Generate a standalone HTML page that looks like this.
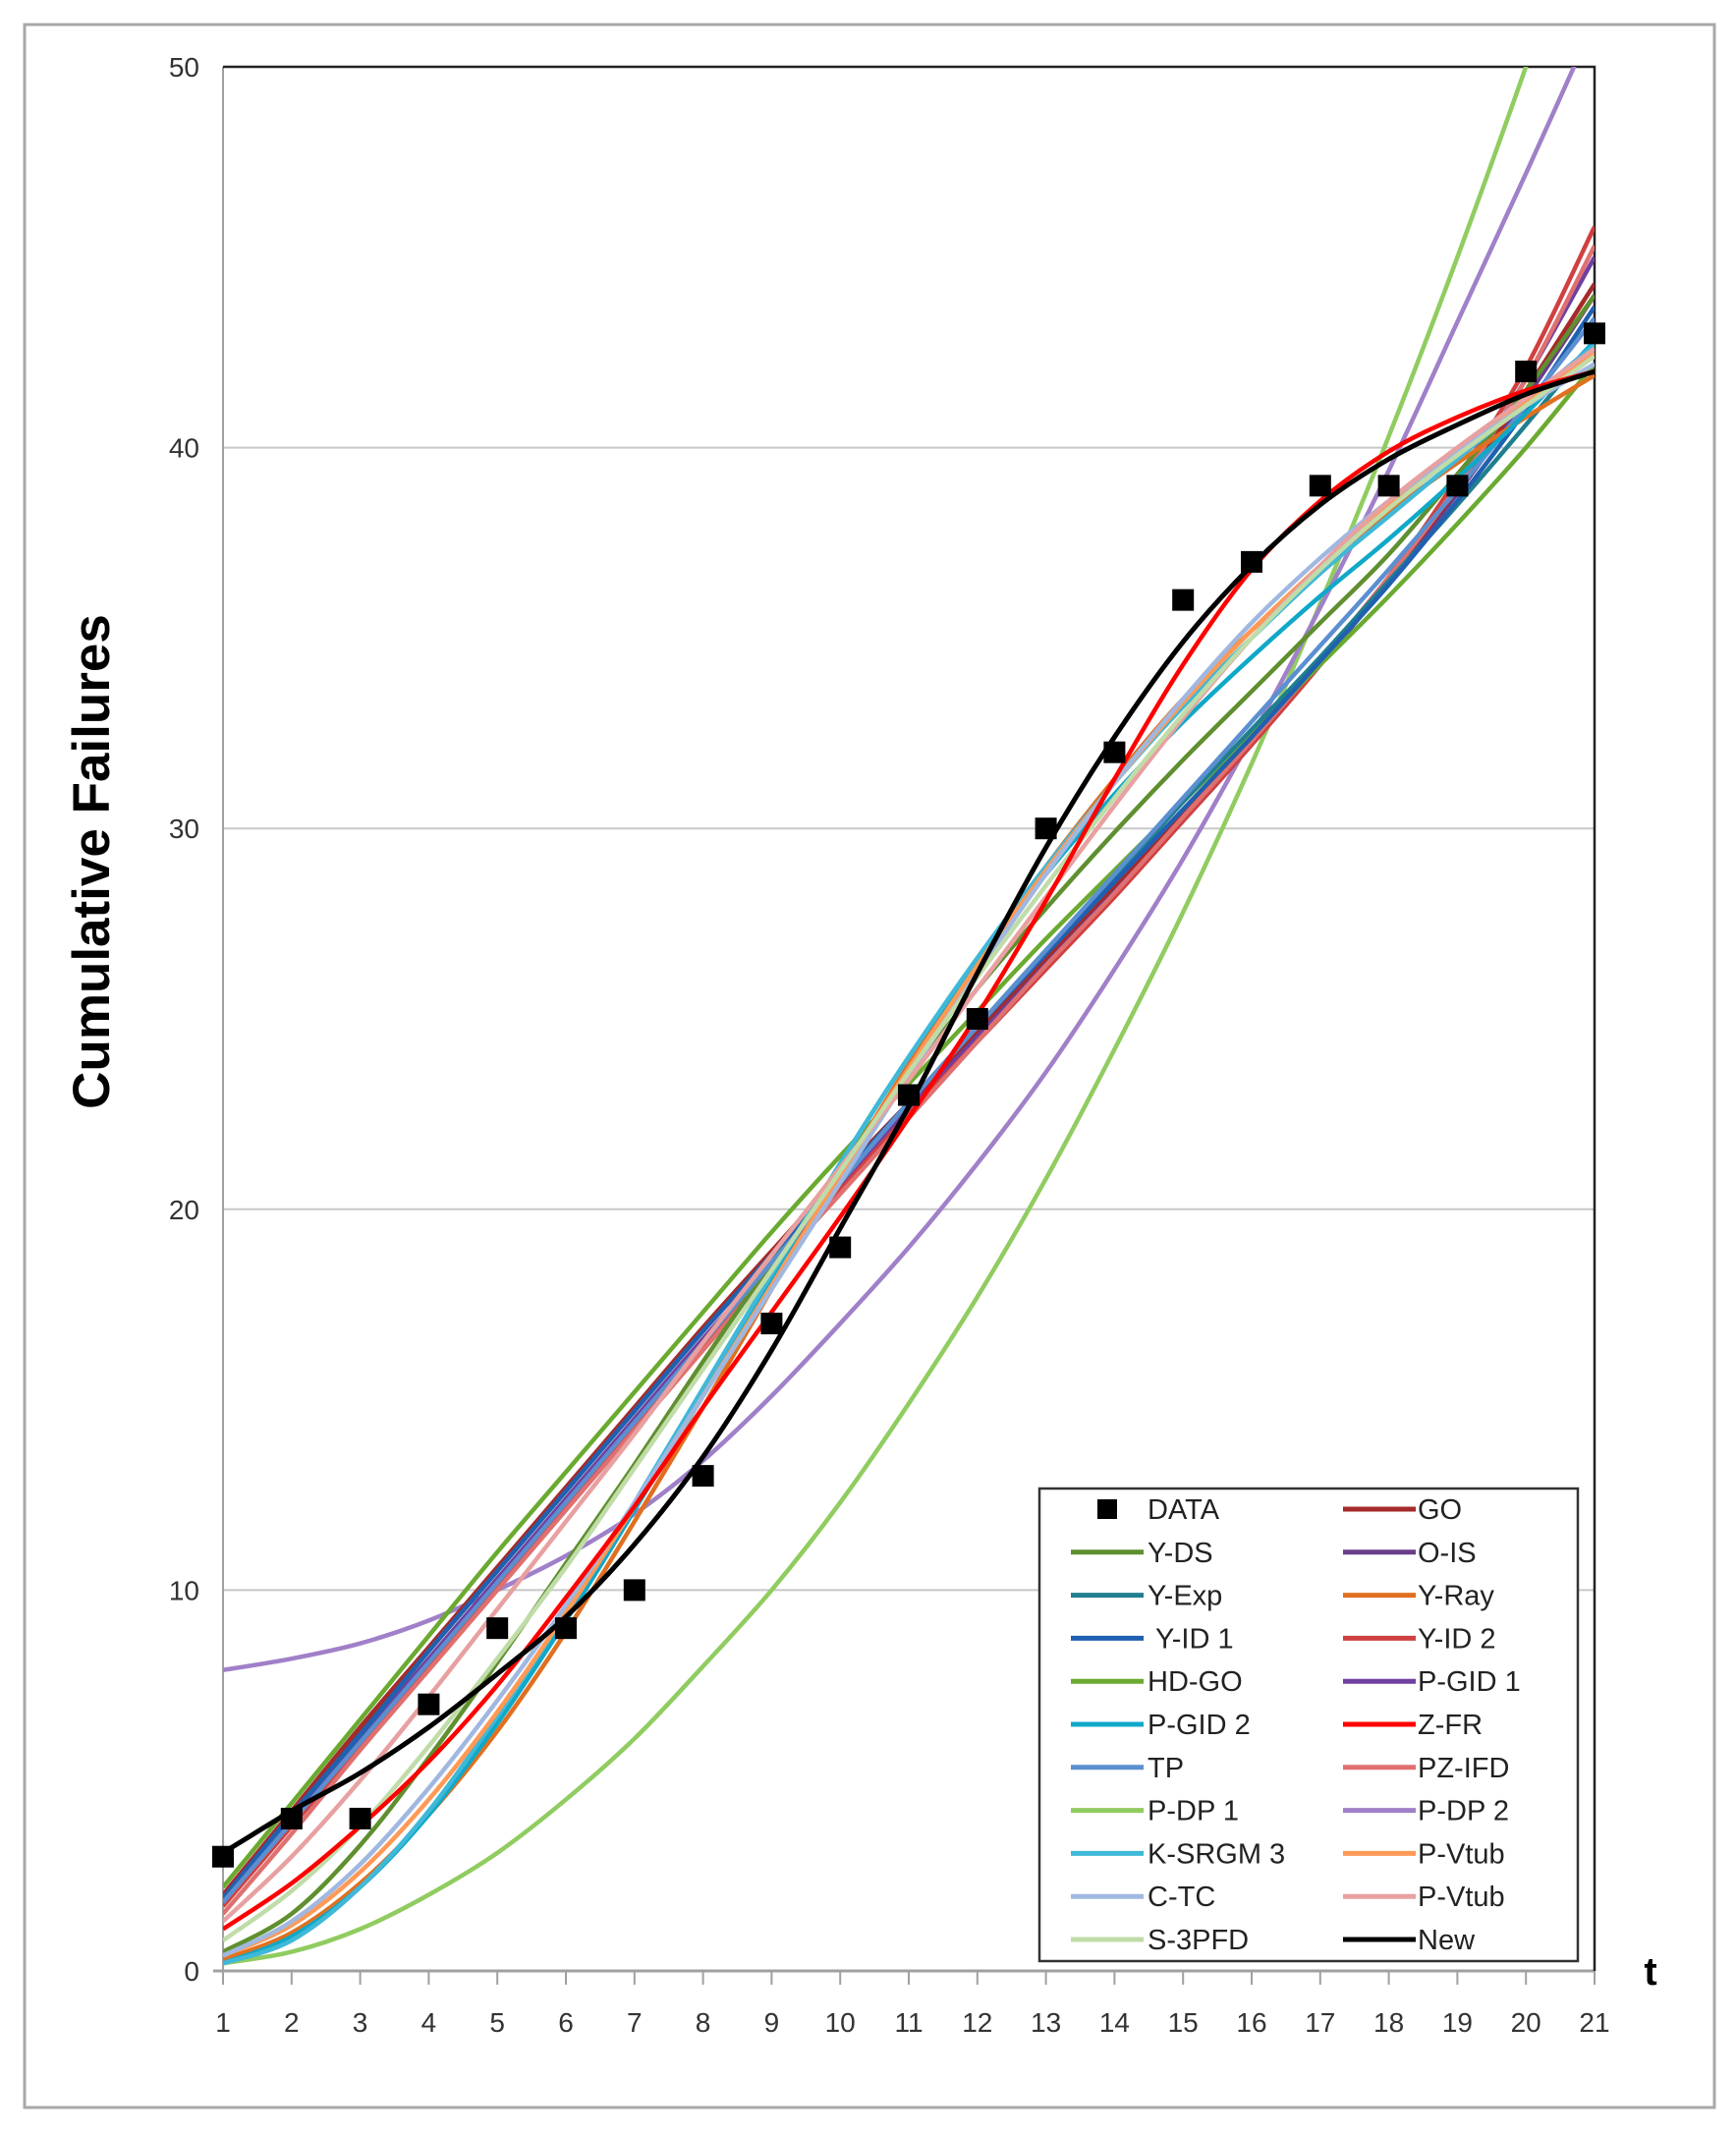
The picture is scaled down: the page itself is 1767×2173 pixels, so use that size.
<!DOCTYPE html>
<html><head><meta charset="utf-8"><style>
html,body{margin:0;padding:0;background:#fff;}
svg{display:block;font-family:"Liberation Sans",sans-serif;}
</style></head><body>
<svg id="chart" width="1767" height="2173" viewBox="0 0 1767 2173">
<rect x="25" y="25" width="1720" height="2120" fill="#fff" stroke="#a8a8a8" stroke-width="3"/>
<g id="grid"></g>
<g id="axes"></g>
<g id="series"></g>
<g id="legend"></g>
<text x="97" y="877" transform="rotate(-90 97 877)" text-anchor="middle" dominant-baseline="middle" font-size="53" font-weight="bold" fill="#000">Cumulative Failures</text>
<text x="1680" y="2020" text-anchor="middle" font-size="40" font-weight="bold" fill="#000">t</text>
</svg>
<script>
const tVals = [1,2,3,4,5,6,7,8,9,10,11,12,13,14,15,16,17,18,19,20,21];
const yTicks = [0,10,20,30,40,50];
const dataPoints = [3,4,4,7,9,9,10,13,17,19,23,25,30,32,36,37,39,39,39,42,43];
const seriesNames = ["GO","Y-DS","O-IS","Y-Exp","Y-Ray","Y-ID 1","Y-ID 2","HD-GO","P-GID 1","P-GID 2","Z-FR","TP","PZ-IFD","P-DP 1","P-DP 2","K-SRGM 3","P-Vtub","C-TC","P-Vtub","S-3PFD","New"];
const seriesColors = ["#a52a2a","#5f8f2f","#6a3d8a","#1f7f8f","#e07020","#2060b0","#d04040","#6aaa30","#7040a0","#10a8c8","#ff0000","#5b8fd0","#e07070","#90cc60","#a080c8","#40b8d8","#ff9955","#a0b8e0","#e8a0a0","#c0dca8","#000000"];
const sGO    = [2.0,4.2,6.4,8.5,10.6,12.7,14.8,16.9,18.9,20.9,22.8,24.7,26.6,28.5,30.4,32.4,34.4,36.6,38.9,41.5,44.3];
const sYDS   = [0.5,1.5,3.3,5.6,8.1,10.7,13.3,16.0,18.6,21.1,23.5,25.8,27.9,29.9,31.8,33.6,35.4,37.2,39.3,41.5,44.0];
const sOIS   = [1.9,4.1,6.3,8.4,10.5,12.6,14.7,16.8,18.8,20.8,22.7,24.6,26.5,28.4,30.3,32.3,34.3,36.5,38.8,41.3,44.0];
const sYExp  = [1.9,4.1,6.2,8.4,10.5,12.6,14.7,16.8,18.8,20.8,22.8,24.8,26.8,28.7,30.7,32.6,34.5,36.5,38.5,40.6,42.8];
const sYRay  = [0.3,1.0,2.3,4.1,6.3,8.9,11.8,14.8,17.9,20.9,23.8,26.5,29.0,31.3,33.4,35.2,36.8,38.3,39.6,40.8,41.9];
const sYID1  = [1.9,4.1,6.2,8.4,10.5,12.6,14.7,16.8,18.8,20.8,22.8,24.8,26.7,28.6,30.5,32.4,34.4,36.4,38.6,41.0,43.7];
const sYID2  = [1.7,3.8,5.9,8.0,10.1,12.2,14.3,16.4,18.5,20.5,22.5,24.4,26.3,28.2,30.2,32.2,34.3,36.6,39.2,42.1,45.8];
const sHDGO  = [2.2,4.4,6.6,8.8,11.0,13.1,15.2,17.3,19.4,21.4,23.3,25.2,27.1,28.9,30.7,32.5,34.3,36.1,38.0,40.0,42.2];
const sPGID1 = [1.8,4.0,6.1,8.2,10.3,12.4,14.5,16.6,18.6,20.6,22.6,24.5,26.4,28.3,30.2,32.2,34.3,36.5,39.0,41.8,45.0];
const sPGID2 = [0.2,0.9,2.2,4.1,6.5,9.2,12.1,15.1,18.2,21.2,24.0,26.5,28.8,30.9,32.8,34.5,36.1,37.6,39.2,40.9,42.8];
const sZFR   = [1.1,2.3,3.8,5.5,7.5,9.8,12.2,14.8,17.3,19.8,22.4,25.1,28.1,31.3,34.3,36.8,38.6,39.9,40.8,41.5,42.0];
const sTP    = [1.8,3.9,6.0,8.1,10.2,12.3,14.4,16.5,18.6,20.7,22.8,24.8,26.8,28.8,30.8,32.8,34.8,36.8,38.9,41.1,43.4];
const sPZIFD = [1.5,3.6,5.8,7.9,10.0,12.1,14.2,16.3,18.4,20.4,22.4,24.4,26.4,28.3,30.3,32.3,34.4,36.6,39.0,41.8,45.3];
const sPDP1  = [0.2,0.5,1.1,2.0,3.1,4.5,6.1,8.0,10.0,12.3,14.9,17.7,20.8,24.2,27.8,31.7,35.9,40.3,45.0,50.0,55.2];
const sPDP2  = [7.9,8.2,8.6,9.2,10.0,10.9,12.0,13.4,15.1,17.0,19.0,21.2,23.6,26.3,29.2,32.4,35.8,39.4,43.3,47.2,51.2];
const sKSRGM = [0.2,0.8,2.2,4.2,6.7,9.4,12.3,15.3,18.3,21.2,24.0,26.6,29.0,31.2,33.2,35.0,36.7,38.2,39.7,41.2,42.7];
const sPVtub1= [0.4,1.2,2.6,4.5,6.8,9.4,12.2,15.1,18.0,20.9,23.7,26.4,28.9,31.2,33.3,35.2,36.9,38.5,39.9,41.2,42.5];
const sCTC   = [0.4,1.3,2.8,4.8,7.1,9.6,12.3,15.1,17.9,20.7,23.5,26.2,28.8,31.2,33.4,35.4,37.1,38.6,39.9,41.1,42.2];
const sPVtub2= [1.3,3.0,5.0,7.2,9.5,11.8,14.1,16.5,18.8,21.1,23.4,25.8,28.2,30.6,32.9,35.0,36.9,38.6,40.0,41.3,42.6];
const sS3PFD = [0.8,2.1,3.8,5.9,8.2,10.6,13.2,15.8,18.4,21.0,23.6,26.1,28.5,30.8,33.0,35.0,36.8,38.4,39.8,41.1,42.4];
const sNew   = [3.1,4.2,5.2,6.4,7.8,9.3,11.2,13.5,16.3,19.5,22.7,26.2,29.5,32.4,34.9,36.9,38.5,39.7,40.6,41.4,42.0];
const seriesValues = [sGO,sYDS,sOIS,sYExp,sYRay,sYID1,sYID2,sHDGO,sPGID1,sPGID2,sZFR,sTP,sPZIFD,sPDP1,sPDP2,sKSRGM,sPVtub1,sCTC,sPVtub2,sS3PFD,sNew];
const drawOrder = [13,14,2,8,0,6,12,1,7,3,5,11,4,9,15,16,17,18,19,10,20];

const NS="http://www.w3.org/2000/svg";
const L=227,R=1623,T=68,B=2006;
function xs(t){return L+(t-1)*(R-L)/20;}
function ys(v){return B-v*(B-T)/50;}
function mk(tag,attrs,parent){const e=document.createElementNS(NS,tag);for(const k in attrs)e.setAttribute(k,attrs[k]);parent.appendChild(e);return e;}
const grid=document.getElementById('grid'),axes=document.getElementById('axes'),ser=document.getElementById('series'),leg=document.getElementById('legend');

yTicks.forEach(v=>{
  if(v>0&&v<50){const g=mk('line',{x1:L,x2:R,y1:ys(v),y2:ys(v),stroke:'#c8c8c8','stroke-width':2},grid);
  
  }
  const tx=mk('text',{x:L-24,y:ys(v)+10,'text-anchor':'end','font-size':28,fill:'#333'},axes);
  tx.textContent=v;
  
  
});
let a=mk('line',{x1:L,x2:L,y1:T,y2:B,stroke:'#a0a0a0','stroke-width':2},axes);


a=mk('line',{x1:L-10,x2:R,y1:B,y2:B,stroke:'#a0a0a0','stroke-width':3},axes);


a=mk('polyline',{points:`${L},${T} ${R},${T} ${R},${B}`,fill:'none',stroke:'#222','stroke-width':2.5},axes);


tVals.forEach(t=>{
  const tk=mk('line',{x1:xs(t),x2:xs(t),y1:B,y2:B+14,stroke:'#a0a0a0','stroke-width':2},axes);
  
  
  const tx=mk('text',{x:xs(t),y:2068,'text-anchor':'middle','font-size':28,fill:'#333'},axes);
  tx.textContent=t;
  
  
});

function smoothPath(vals){
  const p=vals.map((v,i)=>[xs(tVals[i]),ys(v)]);
  let d=`M${p[0][0]},${p[0][1]}`;
  for(let i=0;i<p.length-1;i++){
    const p0=p[i-1]||p[i],p1=p[i],p2=p[i+1],p3=p[i+2]||p2;
    const c1=[p1[0]+(p2[0]-p0[0])/6,p1[1]+(p2[1]-p0[1])/6];
    const c2=[p2[0]-(p3[0]-p1[0])/6,p2[1]-(p3[1]-p1[1])/6];
    d+=`C${c1[0]},${c1[1]} ${c2[0]},${c2[1]} ${p2[0]},${p2[1]}`;
  }
  return d;
}
const cp=mk('clipPath',{id:'pc'},document.getElementById('chart'));
mk('rect',{x:L,y:T,width:R-L,height:B-T},cp);
ser.setAttribute('clip-path','url(#pc)');
drawOrder.forEach(i=>{
  const pth=mk('path',{d:smoothPath(seriesValues[i]),fill:'none',stroke:seriesColors[i],'stroke-width':i===20?5:4.5,'stroke-linejoin':'round'},ser);
  
  
});
const dg=mk('g',{},axes.parentNode);


dataPoints.forEach((v,i)=>{
  const r=mk('rect',{x:xs(tVals[i])-11,y:ys(v)-11,width:22,height:22,fill:'#000'},dg);
  
  
});

let box=mk('rect',{x:1058,y:1515,width:548,height:481,fill:'#fff',stroke:'#333','stroke-width':2.5},leg);


const entries=[["DATA",null]].concat(seriesNames.map((n,i)=>[n,i]));
entries.forEach((e,k)=>{
  const col=k%2,row=Math.floor(k/2);
  const cy=1536+row*43.8;
  const lx=col?1367:1090,tx=col?1443:1168;
  const g=mk('g',{},leg);
  
  
  if(e[1]===null){mk('rect',{x:1117,y:cy-10,width:20,height:20,fill:'#000'},g);}
  else mk('line',{x1:lx,x2:lx+74,y1:cy,y2:cy,stroke:seriesColors[e[1]],'stroke-width':5},g);
  const t=mk('text',{x:e[1]===null?1168:tx,y:cy+10,'font-size':29,fill:'#222'},g);
  t.textContent=(e[0]==="Y-ID 1"?"\u00a0":"")+e[0];
});
</script>
</body></html>
